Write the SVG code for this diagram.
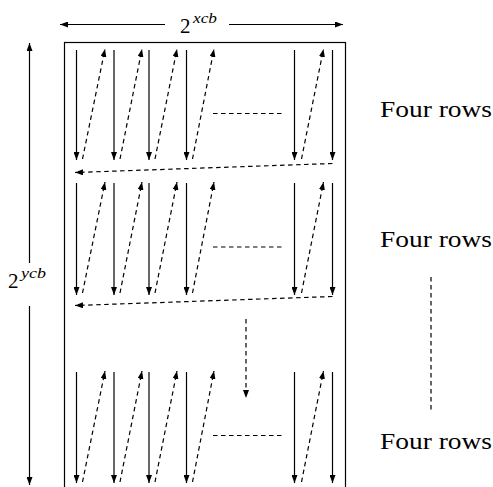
<svg xmlns="http://www.w3.org/2000/svg" width="493" height="487" viewBox="0 0 493 487">
<style>
.s{stroke:#000;stroke-width:1.2;fill:none}
.d{stroke:#000;stroke-width:1.2;fill:none;stroke-dasharray:4.5,3.5}
.a{marker-end:url(#ah)}
text{font-family:'Liberation Serif','DejaVu Serif',serif;fill:#000}
.i{font-style:italic}
</style>
<defs>
<marker id="ah" markerUnits="userSpaceOnUse" markerWidth="9" markerHeight="6" refX="8" refY="3" orient="auto">
<path d="M0,0 L8,3 L0,6 z" fill="#000"/>
</marker>
</defs>
<rect id="frame" x="64.5" y="42.5" width="281" height="460" fill="none" stroke="#000" stroke-width="1.2"/>
<g id="dims">
<line class="s a" x1="165" y1="24.5" x2="60" y2="24.5"/>
<line class="s a" x1="229" y1="24.5" x2="343" y2="24.5"/>
<text font-family="Liberation Serif, DejaVu Serif, serif" x="180" y="33" font-size="21">2</text>
<text font-family="Liberation Serif, DejaVu Serif, serif" class="i" x="193" y="23" font-size="15" textLength="24" lengthAdjust="spacingAndGlyphs">xcb</text>
<line class="s a" x1="29.5" y1="263" x2="29.5" y2="43"/>
<line class="s a" x1="29.5" y1="306" x2="29.5" y2="485"/>
<text font-family="Liberation Serif, DejaVu Serif, serif" x="8" y="288" font-size="21">2</text>
<text font-family="Liberation Serif, DejaVu Serif, serif" class="i" x="21" y="278" font-size="15" textLength="25" lengthAdjust="spacingAndGlyphs">ycb</text>
</g>
<g id="row1">
<g class="s a">
<line x1="76.5" y1="50" x2="76.5" y2="160"/>
<line x1="114" y1="50" x2="114" y2="160"/>
<line x1="149" y1="50" x2="149" y2="160"/>
<line x1="186.5" y1="50" x2="186.5" y2="160"/>
<line x1="294.5" y1="50" x2="294.5" y2="160"/>
<line x1="332.5" y1="50" x2="332.5" y2="160"/>
</g>
<g class="d a">
<line x1="82.5" y1="159" x2="105" y2="49"/>
<line x1="120" y1="159" x2="142" y2="49"/>
<line x1="155" y1="159" x2="177" y2="49"/>
<line x1="192.5" y1="159" x2="214" y2="49"/>
<line x1="301.5" y1="159" x2="323.5" y2="49"/>
</g>
<line class="d" x1="213" y1="113.5" x2="284" y2="113.5"/>
<text font-family="Liberation Serif, DejaVu Serif, serif" x="380" y="117" font-size="23.5" textLength="112" lengthAdjust="spacingAndGlyphs">Four rows</text>
</g>
<g id="row2">
<g class="s a">
<line x1="76.5" y1="183" x2="76.5" y2="295"/>
<line x1="114" y1="183" x2="114" y2="295"/>
<line x1="149" y1="183" x2="149" y2="295"/>
<line x1="186.5" y1="183" x2="186.5" y2="295"/>
<line x1="294.5" y1="183" x2="294.5" y2="295"/>
<line x1="332.5" y1="183" x2="332.5" y2="295"/>
</g>
<g class="d a">
<line x1="82.5" y1="293" x2="105" y2="182"/>
<line x1="120" y1="293" x2="142" y2="182"/>
<line x1="155" y1="293" x2="177" y2="182"/>
<line x1="192.5" y1="293" x2="214" y2="182"/>
<line x1="301.5" y1="293" x2="323.5" y2="182"/>
</g>
<line class="d" x1="213" y1="247" x2="284" y2="247"/>
<text font-family="Liberation Serif, DejaVu Serif, serif" x="380" y="247" font-size="23.5" textLength="112" lengthAdjust="spacingAndGlyphs">Four rows</text>
</g>
<g id="row3">
<g class="s a">
<line x1="76.5" y1="372" x2="76.5" y2="483"/>
<line x1="114" y1="372" x2="114" y2="483"/>
<line x1="149" y1="372" x2="149" y2="483"/>
<line x1="186.5" y1="372" x2="186.5" y2="483"/>
<line x1="294.5" y1="372" x2="294.5" y2="483"/>
<line x1="332.5" y1="372" x2="332.5" y2="483"/>
</g>
<g class="d a">
<line x1="82.5" y1="482" x2="105" y2="371"/>
<line x1="120" y1="482" x2="142" y2="371"/>
<line x1="155" y1="482" x2="177" y2="371"/>
<line x1="192.5" y1="482" x2="214" y2="371"/>
<line x1="301.5" y1="482" x2="323.5" y2="371"/>
</g>
<line class="d" x1="213" y1="435.5" x2="284" y2="435.5"/>
<text font-family="Liberation Serif, DejaVu Serif, serif" x="380" y="449" font-size="23.5" textLength="112" lengthAdjust="spacingAndGlyphs">Four rows</text>
</g>
<g id="connectors">
<line class="d a" x1="332.5" y1="163.5" x2="75" y2="172.5"/>
<line class="d a" x1="332.5" y1="296.5" x2="75" y2="305.5"/>
<line class="d a" x1="246" y1="319" x2="246" y2="398"/>
<line class="d" x1="431" y1="277" x2="431" y2="410"/>
</g>
</svg>
